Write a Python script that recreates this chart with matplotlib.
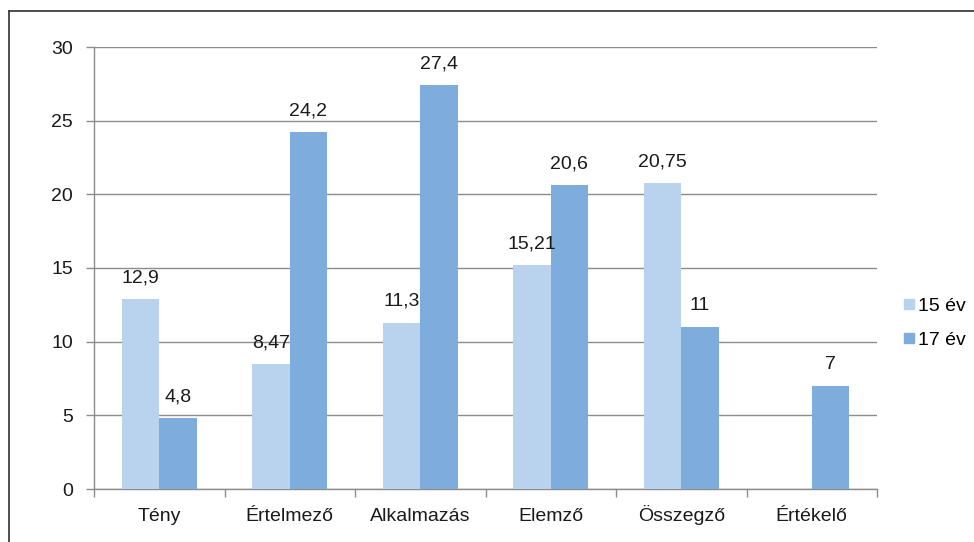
import matplotlib
matplotlib.use("Agg")
import matplotlib.pyplot as plt
import numpy as np
from matplotlib.lines import Line2D
import matplotlib.transforms as mtransforms

categories = ["Tény", "Értelmező", "Alkalmazás", "Elemző", "Összegző", "Értékelő"]
series_names = ["15 év", "17 év"]
values_15 = [12.9, 8.47, 11.3, 15.21, 20.75, None]
values_17 = [4.8, 24.2, 27.4, 20.6, 11, 7]
label_15 = ["12,9", "8,47", "11,3", "15,21", "20,75", ""]
label_17 = ["4,8", "24,2", "27,4", "20,6", "11", "7"]
yticks = [0, 5, 10, 15, 20, 25, 30]

plt.rcParams['font.family'] = ['Liberation Sans', 'DejaVu Sans']

W, H = 974, 542
FS = 14
TC = "#1a1a1a"
fig = plt.figure(figsize=(W / 100, H / 100), dpi=100)
ax = fig.add_axes([94 / W, 1 - 489 / H, (877 - 94) / W, (489 - 47) / H])

c15 = "#B9D3EE"
c17 = "#7EACDC"
bw = 1 / 3.5
x = np.arange(len(categories))
v15 = [np.nan if v is None else v for v in values_15]
ax.bar(x - bw / 2, v15, bw, color=c15, zorder=3)
ax.bar(x + bw / 2, values_17, bw, color=c17, zorder=3)

for xi, v, lab in zip(x, v15, label_15):
    if lab:
        ax.text(xi - bw / 2, v + 0.85, lab, ha="center", va="bottom", fontsize=FS, color=TC)
for xi, v, lab in zip(x, values_17, label_17):
    ax.text(xi + bw / 2, v + 0.85, lab, ha="center", va="bottom", fontsize=FS, color=TC)

ax.set_xlim(-0.5, len(categories) - 0.5)
ax.set_ylim(0, 30)
ax.set_yticks(yticks)
ax.set_yticklabels([str(t) for t in yticks], fontsize=FS, color=TC)
ax.yaxis.grid(True, color="#8c8c8c", linewidth=1, zorder=0)
ax.set_axisbelow(True)

ax.set_xticks(np.arange(len(categories) + 1) - 0.5)
ax.set_xticklabels([])
ax.tick_params(axis="x", which="major", length=6, color="#8c8c8c", width=1)
ax.tick_params(axis="y", length=6, color="#8c8c8c", width=1, pad=9)

trans = mtransforms.blended_transform_factory(ax.transData, ax.transAxes)
base_y = (489 - 521) / (489 - 47)
for xi, cat in zip(x, categories):
    ax.text(xi, base_y, cat, transform=trans, ha="center", va="baseline",
            fontsize=FS, color=TC, clip_on=False)

for s in ["top", "right"]:
    ax.spines[s].set_visible(False)
for s in ["left", "bottom"]:
    ax.spines[s].set_color("#8c8c8c")
    ax.spines[s].set_linewidth(1)

handles = [Line2D([], [], marker="s", linestyle="", markersize=7, color=c15),
           Line2D([], [], marker="s", linestyle="", markersize=7, color=c17)]
fig.legend(handles, series_names, loc="center left", bbox_to_anchor=(894 / W, 1 - 323 / H),
           frameon=False, fontsize=FS, handletextpad=0.15, labelspacing=0.85, borderaxespad=0,
           handlelength=0.7)

# outer frame lines (top and left)
fig.add_artist(Line2D([9 / W, 1], [1 - 11 / H, 1 - 11 / H], color="#404040", linewidth=1.3))
fig.add_artist(Line2D([9 / W, 9 / W], [0, 1 - 11 / H], color="#404040", linewidth=1.3))

fig.savefig("out.png", dpi=100, facecolor="white")
